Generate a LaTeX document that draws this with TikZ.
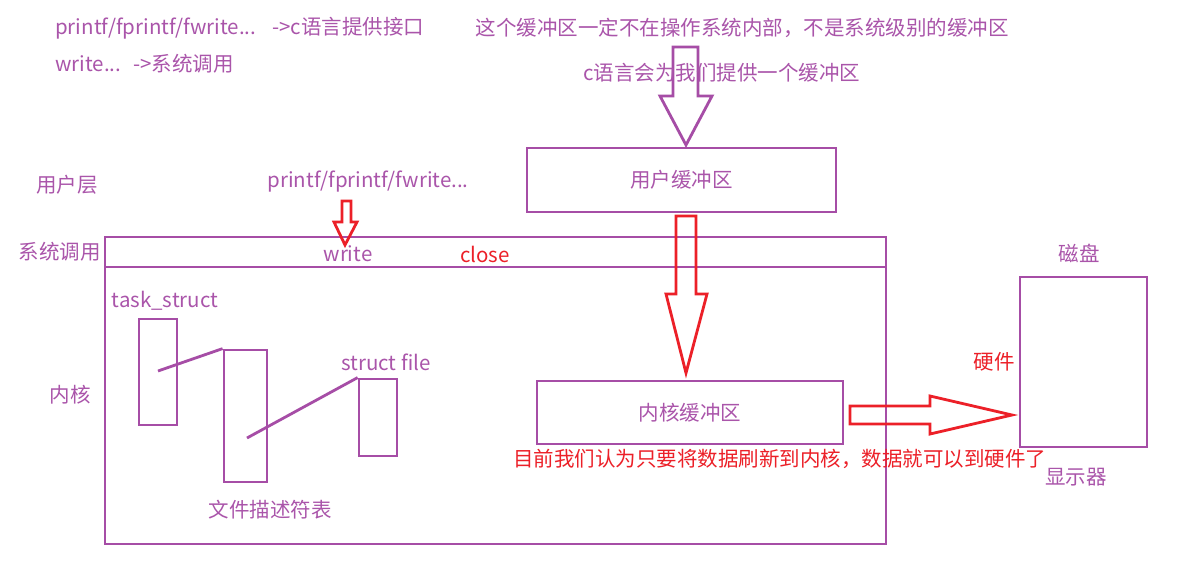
\documentclass[tikz,border=0pt]{standalone}
\usepackage{fontspec}
\setmainfont{Noto Sans CJK SC}
\definecolor{pur}{RGB}{166,77,166}
\definecolor{purtxt}{RGB}{170,85,170}
\definecolor{rd}{RGB}{236,32,40}
\begin{document}
\begin{tikzpicture}[x=1pt,y=-1pt,
  every node/.style={font=\fontsize{20.5}{24}\selectfont, inner sep=0pt},
  txt/.style={text=purtxt},
  rtxt/.style={text=rd},
  pbox/.style={draw=pur, line width=2.8pt, rectangle},
  parrow/.style={draw=pur, line width=2.8pt, line join=miter},
  rarrow/.style={draw=rd, line width=2.8pt, line join=miter},
  link/.style={draw=pur, line width=2.8pt}]
\useasboundingbox[fill=white] (0,0) rectangle (1189,573);

% texts at top
\node[txt, anchor=west] (t1) at (55,28) {printf/fprintf/fwrite...\hspace{16pt}->c语言提供接口};
\node[txt, anchor=west] (t2) at (55,64) {write...\hspace{12pt}->系统调用};
\node[txt] (t3) at (742,28) {这个缓冲区一定不在操作系统内部，不是系统级别的缓冲区};

% hollow purple arrow
\draw[parrow] (673,47) -- (698,47) -- (698,96) -- (712,96) -- (686,145) -- (660,96) -- (673,96) -- cycle;
\node[txt] (t4) at (722,73) {c语言会为我们提供一个缓冲区};

% user buffer
\node[pbox, minimum width=309pt, minimum height=64pt] (ubuf) at (681.5,180) {};
\node[txt] at (ubuf.center) (ubuftxt) {用户缓冲区};

% left labels
\node[txt] (user) at (67,185) {用户层};
\node[txt] (sys) at (60,252) {系统调用};
\node[txt] (kern) at (70,395) {内核};
\node[txt] (pf) at (368,182) {printf/fprintf/fwrite...};

% system call bar and kernel box
\node[pbox, minimum width=781pt, minimum height=30pt] (bar) at (495.5,252) {};
\node[pbox, minimum width=781pt, minimum height=277pt] (kbox) at (495.5,405.5) {};
\node[txt] (write) at (348,254) {write};
\node[rtxt] (close) at (485,254) {close};

% small red arrow
\draw[rarrow] (342,201) -- (351,201) -- (351,222) -- (357,222) -- (345,245) -- (334,222) -- (342,222) -- cycle;

% task_struct etc.
\node[txt] (ts) at (165,301) {task\_struct};
\node[pbox, minimum width=38pt, minimum height=106pt] (b1) at (158,372) {};
\node[pbox, minimum width=43pt, minimum height=132pt] (b2) at (245.5,416) {};
\node[pbox, minimum width=38pt, minimum height=77pt] (b3) at (378,417.5) {};
\node[txt] (sf) at (386,362) {struct file};
\node[txt] (fdt) at (270,510) {文件描述符表};
\coordinate (l1s) at (158,371);
\coordinate (l2s) at (247,438);
\draw[link] (l1s) -- (b2.north west);
\draw[link] (l2s) -- (b3.north west);

% big red down arrow
\draw[rarrow] (676,216) -- (696,216) -- (696,294) -- (707,294) -- (686,373) -- (666,294) -- (676,294) -- cycle;

% kernel buffer
\node[pbox, minimum width=306pt, minimum height=63pt] (kbuf) at (690,412.5) {};
\node[txt] (kbuftxt) at (kbuf.center) {内核缓冲区};
\node[rtxt, anchor=west] (note) at (513,459) {目前我们认为只要将数据刷新到内核，数据就可以到硬件了};

% right red arrow
\draw[rarrow] (850,406) -- (930,406) -- (930,396) -- (1012,415) -- (930,434) -- (930,424) -- (850,424) -- cycle;

% disk
\node[pbox, minimum width=127pt, minimum height=170pt] (disk) at (1083.5,362) {};
\node[txt] (disklbl) at (1079,253) {磁盘};
\node[rtxt] (hw) at (994,362) {硬件};
\node[txt] (disp) at (1076,477) {显示器};
\end{tikzpicture}
\end{document}
